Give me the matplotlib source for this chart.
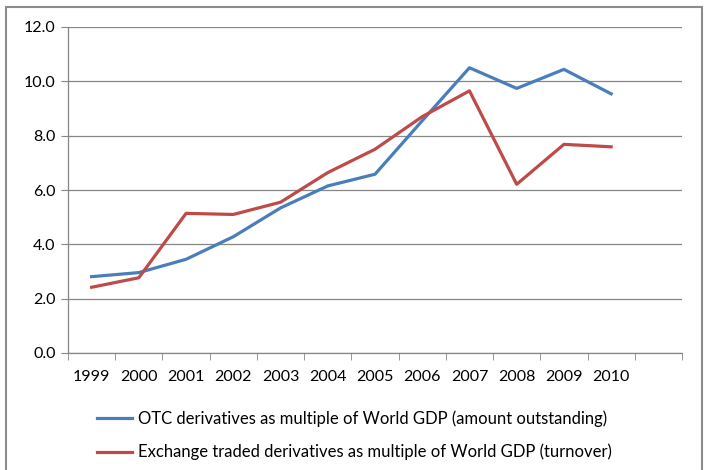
import matplotlib.pyplot as plt
from matplotlib.patches import Rectangle

# === data ===
years = ['1999', '2000', '2001', '2002', '2003', '2004', '2005',
         '2006', '2007', '2008', '2009', '2010']
otc_gdp = [2.81, 2.96, 3.45, 4.28, 5.34, 6.15, 6.58, 8.55, 10.50, 9.74, 10.44, 9.54]
etd_gdp = [2.42, 2.77, 5.14, 5.10, 5.55, 6.64, 7.50, 8.70, 9.65, 6.21, 7.68, 7.59]
labels = ['OTC derivatives as multiple of World GDP (amount outstanding)',
          'Exchange traded derivatives as multiple of World GDP (turnover)']

plt.rcParams['font.family'] = ['Lato', 'DejaVu Sans']

W, H = 704, 470
fig = plt.figure(figsize=(W / 100, H / 100), dpi=100)

# grey outer frame like the Excel chart area
fig.patches.append(Rectangle((6 / W, -0.05), 696 / W, 1.05 - 7 / H,
                             transform=fig.transFigure, fill=False,
                             edgecolor='#8c8c8c', linewidth=1.5))

ax = fig.add_axes([68 / W, 1 - 353 / H, (682 - 68) / W, (353 - 27) / H])

x = list(range(len(years)))
ax.plot(x, otc_gdp, color='#4a7ebb', linewidth=2.3, label=labels[0],
        solid_joinstyle='round')
ax.plot(x, etd_gdp, color='#be4b48', linewidth=2.3, label=labels[1],
        solid_joinstyle='round')

ax.set_xlim(-0.5, 12.5)
ax.set_ylim(0, 12)
ax.set_yticks(range(0, 13, 2))
ax.set_yticklabels([f'{v:.1f}' for v in range(0, 13, 2)], fontsize=11.5)
ax.set_xticks(x)
ax.set_xticklabels(years, fontsize=11.5)
ax.set_xticks([i - 0.5 for i in range(14)], minor=True)
ax.tick_params(axis='x', which='major', length=0, pad=12)
ax.tick_params(axis='x', which='minor', length=5, color='#868686', direction='out')
ax.tick_params(axis='y', length=5, color='#868686', pad=4)

ax.grid(axis='y', color='#868686', linewidth=0.9)
ax.set_axisbelow(True)
for side in ['top', 'right']:
    ax.spines[side].set_visible(False)
for side in ['left', 'bottom']:
    ax.spines[side].set_color('#868686')
    ax.spines[side].set_linewidth(0.9)

ax.legend(loc='upper left', bbox_to_anchor=(90 / W, 1 - 404 / H),
          bbox_transform=fig.transFigure, frameon=False, fontsize=12.0,
          handlelength=2.1, handletextpad=0.36, labelspacing=1.0,
          borderaxespad=0)

fig.savefig('out.png', dpi=100)
